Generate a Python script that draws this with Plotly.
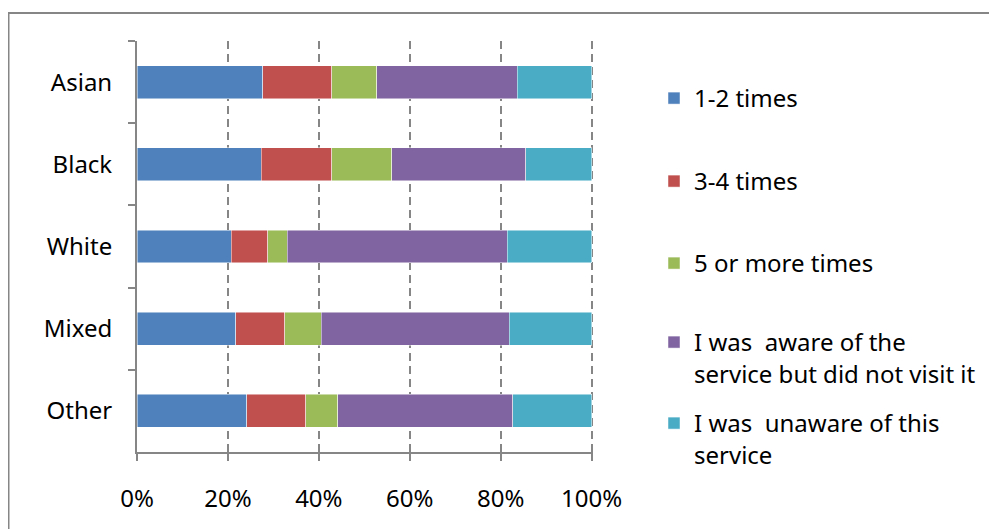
import plotly.graph_objects as go

groups = ["Asian", "Black", "White", "Mixed", "Other"]

visits_1_2 = [0.277, 0.273, 0.207, 0.217, 0.241]
visits_3_4 = [0.151, 0.155, 0.081, 0.108, 0.130]
visits_5_plus = [0.099, 0.132, 0.043, 0.080, 0.071]
aware_not_visited = [0.309, 0.295, 0.483, 0.414, 0.385]
unaware = [0.164, 0.145, 0.186, 0.181, 0.173]

series_names = ["1-2 times", "3-4 times", "5 or more times",
                "I was  aware of the<br>service but did not visit it",
                "I was  unaware of this<br>service"]
series_values = [visits_1_2, visits_3_4, visits_5_plus, aware_not_visited, unaware]
colors = ["#4F81BD", "#C0504D", "#9BBB59", "#8064A2", "#4BACC6"]

# the page body adds an 8px offset, so positions below are shifted back
off = 8
legend_px = [98, 181, 263, 342, 423]

font = "Noto Sans"
fig = go.Figure()

for i, (name, vals) in enumerate(zip(series_names, series_values)):
    leg = "legend" if i == 0 else "legend{}".format(i + 1)
    fig.add_trace(go.Bar(
        y=groups, x=vals, name=name, orientation="h",
        marker=dict(color=colors[i], line=dict(color="rgba(255,255,255,0.6)", width=0.8)),
        legend=leg,
    ))

legends = {}
for i, py in enumerate(legend_px):
    key = "legend" if i == 0 else "legend{}".format(i + 1)
    legends[key] = dict(
        xref="container", yref="container",
        x=(654 - off) / 997, y=1 - (py - off - 22) / 529,
        xanchor="left", yanchor="top", valign="top",
        bgcolor="rgba(0,0,0,0)",
        font=dict(family=font, size=24, color="black"),
    )

fig.update_layout(
    width=997, height=529,
    margin=dict(l=137 - off, r=997 - 593 + off, t=41 - off, b=529 - 452 + off),
    barmode="stack", bargap=0.6,
    plot_bgcolor="white", paper_bgcolor="white",
    font=dict(family=font, size=24, color="black"),
    showlegend=True,
    **legends,
)

# range a touch past 100% so the 100% gridline is kept
fig.update_xaxes(
    range=[0, 1.003], tickvals=[0, 0.2, 0.4, 0.6, 0.8, 1.0], tickformat=".0%",
    showline=True, linecolor="#868686", linewidth=2,
    ticks="outside", ticklen=7, tickcolor="#868686", tickwidth=2,
    ticklabelstandoff=17,
    showgrid=True, gridcolor="#868686", gridwidth=2, griddash="8px,5px",
    zeroline=False,
)
fig.update_yaxes(
    autorange="reversed", tickson="boundaries",
    showline=True, linecolor="#868686", linewidth=2,
    ticks="outside", ticklen=7, tickcolor="#868686", tickwidth=2,
    ticklabelstandoff=18,
    showgrid=False, zeroline=False,
)

# outer chart frame, partly running off the page
fig.add_shape(type="rect", xref="paper", yref="paper",
              x0=(8.5 - 137) / 456, x1=2.5, y0=-0.6, y1=(452 - 13) / 411,
              line=dict(color="#868686", width=2), layer="below")

fig.write_html("out.html")
